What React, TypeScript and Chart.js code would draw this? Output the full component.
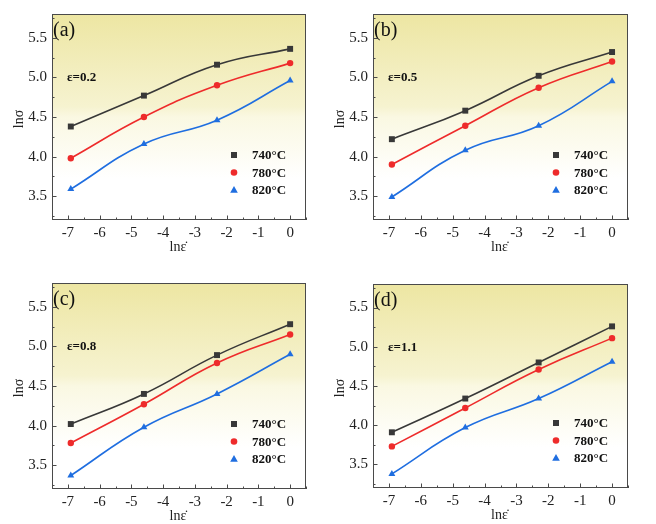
import React, { useEffect, useRef } from "react";
import { Chart, registerables } from "chart.js";

Chart.register(...registerables);

// ---- data ----
const lnStrainRate = [-6.908, -4.605, -2.303, 0];
const seriesNames = ["740°C", "780°C", "820°C"];
const panelTags = ["(a)", "(b)", "(c)", "(d)"];
const strainLabels = ["ε=0.2", "ε=0.5", "ε=0.8", "ε=1.1"];
const xTitle = "lnε̇";
const yTitle = "lnσ";

const a740 = [4.38, 4.77, 5.16, 5.36];
const a780 = [3.98, 4.5, 4.9, 5.18];
const a820 = [3.59, 4.16, 4.46, 4.96];

const b740 = [4.22, 4.58, 5.02, 5.32];
const b780 = [3.9, 4.39, 4.87, 5.2];
const b820 = [3.49, 4.08, 4.39, 4.95];

const c740 = [4.02, 4.4, 4.89, 5.28];
const c780 = [3.78, 4.27, 4.79, 5.15];
const c820 = [3.37, 3.98, 4.4, 4.9];

const d740 = [3.91, 4.34, 4.8, 5.26];
const d780 = [3.73, 4.22, 4.71, 5.11];
const d820 = [3.38, 3.97, 4.34, 4.81];

const panelSeries = [
  [a740, a780, a820],
  [b740, b780, b820],
  [c740, c780, c820],
  [d740, d780, d820],
];

const xTickValues = [-7, -6, -5, -4, -3, -2, -1, 0];
const xMinorValues = [-7.5, -6.5, -5.5, -4.5, -3.5, -2.5, -1.5, -0.5, 0.5];
const yTickValues = [3.5, 4.0, 4.5, 5.0, 5.5];
const yMinorValues = [3.25, 3.75, 4.25, 4.75, 5.25, 5.75];

// ---- style ----
const colors = ["#383838", "#ee2b2b", "#1f6ee0"];
const pointStyles = ["rect", "circle", "triangle"];
const pointRadii = [4.2, 3.2, 4.0];
const SERIF = '"Liberation Serif", "Times New Roman", serif';

// chart-area rectangles for the four panels (page coords)
const areas = [
  { left: 52, top: 14, right: 306, bottom: 220 },
  { left: 373, top: 14, right: 628, bottom: 220 },
  { left: 52, top: 283, right: 306, bottom: 489 },
  { left: 373, top: 284, right: 628, bottom: 488 },
];
const PAD_L = 52;
const PAD_T = 14;
const PAD_R = 22;
const PAD_B = 42;

function drawMarker(ctx: CanvasRenderingContext2D, kind: string, x: number, y: number, color: string) {
  ctx.save();
  ctx.fillStyle = color;
  ctx.beginPath();
  if (kind === "rect") {
    ctx.rect(x - 3, y - 3, 6, 6);
  } else if (kind === "circle") {
    ctx.arc(x, y, 3.3, 0, Math.PI * 2);
  } else {
    ctx.moveTo(x, y - 4);
    ctx.lineTo(x + 3.8, y + 2.7);
    ctx.lineTo(x - 3.8, y + 2.7);
    ctx.closePath();
  }
  ctx.fill();
  ctx.restore();
}

const decorPlugin = {
  id: "decor",
  beforeDraw(chart: any) {
    const { ctx, chartArea: ca } = chart;
    const g = ctx.createLinearGradient(0, ca.top, 0, ca.bottom);
    g.addColorStop(0, "#ede6a2");
    g.addColorStop(0.25, "#f2edbc");
    g.addColorStop(0.45, "#f6f3d0");
    g.addColorStop(0.5, "#faf8e2");
    g.addColorStop(0.8, "#ffffff");
    g.addColorStop(1, "#ffffff");
    ctx.save();
    ctx.fillStyle = g;
    ctx.fillRect(ca.left, ca.top, ca.right - ca.left, ca.bottom - ca.top);
    ctx.restore();
  },
  afterDraw(chart: any, _args: any, opts: any) {
    const { ctx, chartArea: ca } = chart;
    const xs = chart.scales.x;
    const ys = chart.scales.y;
    ctx.save();
    // frame
    ctx.strokeStyle = "#4a4a4a";
    ctx.lineWidth = 1;
    ctx.strokeRect(ca.left + 0.5, ca.top + 0.5, ca.right - ca.left - 1, ca.bottom - ca.top - 1);
    // ticks (inward)
    ctx.beginPath();
    xTickValues.forEach((v) => {
      const px = Math.round(xs.getPixelForValue(v)) + 0.5;
      ctx.moveTo(px, ca.bottom);
      ctx.lineTo(px, ca.bottom - 4.5);
    });
    xMinorValues.forEach((v) => {
      const px = Math.round(xs.getPixelForValue(v)) + 0.5;
      ctx.moveTo(px, ca.bottom);
      ctx.lineTo(px, ca.bottom - 2.5);
    });
    yTickValues.forEach((v) => {
      const py = Math.round(ys.getPixelForValue(v)) + 0.5;
      ctx.moveTo(ca.left, py);
      ctx.lineTo(ca.left + 4.5, py);
    });
    yMinorValues.forEach((v) => {
      const py = Math.round(ys.getPixelForValue(v)) + 0.5;
      ctx.moveTo(ca.left, py);
      ctx.lineTo(ca.left + 2.5, py);
    });
    ctx.stroke();

    ctx.fillStyle = "#111";
    // panel tag
    ctx.font = `20px ${SERIF}`;
    ctx.textAlign = "left";
    ctx.textBaseline = "middle";
    ctx.fillText(opts.tag, ca.left + 1, ca.top + 17);
    // strain label
    ctx.font = `bold 13px ${SERIF}`;
    ctx.fillText(opts.strain, ca.left + 15, ca.top + 64);
    // axis titles
    ctx.font = `14px ${SERIF}`;
    ctx.fillStyle = "#222";
    ctx.textAlign = "center";
    ctx.fillText(xTitle, (ca.left + ca.right) / 2 - 1, ca.bottom + 27);
    ctx.save();
    ctx.translate(ca.left - 33, (ca.top + ca.bottom) / 2 + 2);
    ctx.rotate(-Math.PI / 2);
    ctx.fillText(yTitle, 0, 0);
    ctx.restore();
    // legend
    const rows = [-65, -47.5, -30];
    ctx.font = `bold 13px ${SERIF}`;
    ctx.textAlign = "left";
    ctx.fillStyle = "#111";
    seriesNames.forEach((name, i) => {
      const y = ca.bottom + rows[i];
      drawMarker(ctx, pointStyles[i], ca.right - 72, y, colors[i]);
      ctx.fillText(name, ca.right - 54, y + 1);
    });
    ctx.restore();
  },
};

function Panel({ index }: { index: number }) {
  const ref = useRef<HTMLCanvasElement | null>(null);
  const area = areas[index];
  const width = area.right - area.left + PAD_L + PAD_R;
  const height = area.bottom - area.top + PAD_T + PAD_B;

  useEffect(() => {
    if (!ref.current) return;
    const series = panelSeries[index];
    const chart = new Chart(ref.current, {
      type: "line",
      data: {
        datasets: series.map((vals, i) => ({
          label: seriesNames[i],
          data: lnStrainRate.map((x, k) => ({ x, y: vals[k] })),
          borderColor: colors[i],
          backgroundColor: colors[i],
          pointBackgroundColor: colors[i],
          pointBorderColor: colors[i],
          pointBorderWidth: 0,
          pointStyle: pointStyles[i] as any,
          pointRadius: pointRadii[i],
          borderWidth: 1.6,
          tension: 0.45,
          fill: false,
        })),
      },
      options: {
        animation: false,
        responsive: false,
        events: [],
        layout: { padding: { left: 0, top: PAD_T, right: PAD_R, bottom: 0 } },
        scales: {
          x: {
            type: "linear",
            min: -7.5,
            max: 0.5,
            afterBuildTicks: (s: any) => {
              s.ticks = xTickValues.map((v) => ({ value: v }));
            },
            afterFit: (s: any) => {
              s.height = PAD_B;
            },
            grid: { display: false, drawTicks: false },
            border: { display: false },
            ticks: {
              autoSkip: false,
              maxRotation: 0,
              padding: 4,
              color: "#222",
              font: { family: SERIF, size: 15 },
              callback: (v: any) => String(v),
            },
          },
          y: {
            type: "linear",
            min: 3.2,
            max: 5.8,
            afterBuildTicks: (s: any) => {
              s.ticks = yTickValues.map((v) => ({ value: v }));
            },
            afterFit: (s: any) => {
              s.width = PAD_L;
            },
            grid: { display: false, drawTicks: false },
            border: { display: false },
            ticks: {
              autoSkip: false,
              padding: 5,
              color: "#222",
              font: { family: SERIF, size: 15 },
              callback: (v: any) => Number(v).toFixed(1),
            },
          },
        },
        plugins: {
          legend: { display: false },
          tooltip: { enabled: false },
          decor: { tag: panelTags[index], strain: strainLabels[index] },
        } as any,
      },
      plugins: [decorPlugin],
    });
    return () => chart.destroy();
  }, [index]);

  return (
    <canvas
      ref={ref}
      width={width}
      height={height}
      style={{
        position: "absolute",
        left: area.left - PAD_L,
        top: area.top - PAD_T,
        width,
        height,
      }}
    />
  );
}

export default function App() {
  return (
    <div
      style={{
        position: "absolute",
        left: 0,
        top: 0,
        width: 656,
        height: 524,
        overflow: "hidden",
        background: "#ffffff",
      }}
    >
      {[0, 1, 2, 3].map((i) => (
        <Panel key={i} index={i} />
      ))}
    </div>
  );
}
